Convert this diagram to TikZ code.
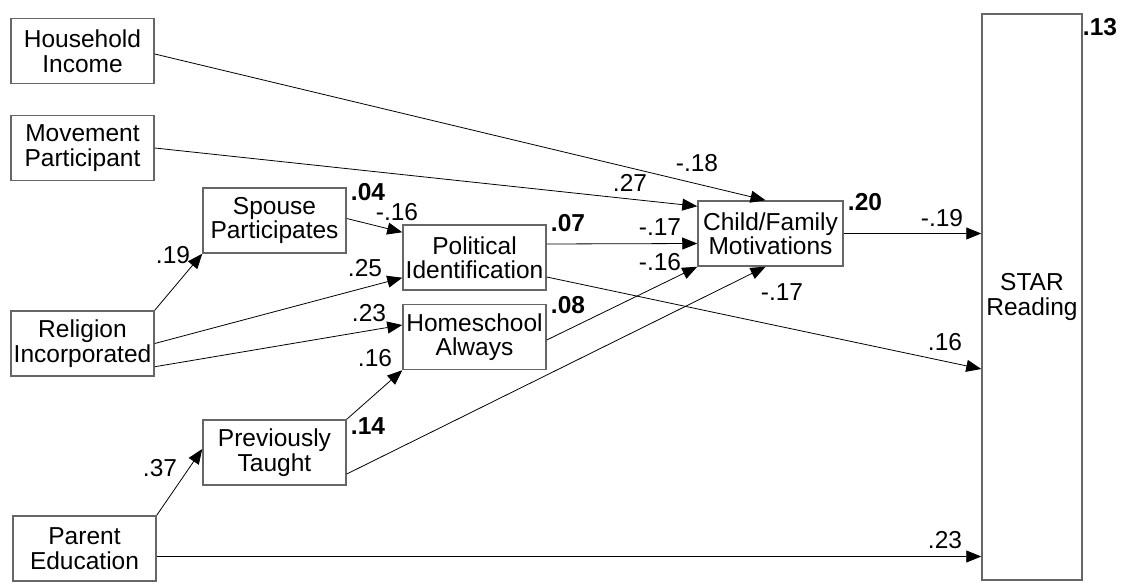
\documentclass[tikz,border=0pt]{standalone}
\usepackage{fontspec}
\setmainfont{Liberation Sans}
\usetikzlibrary{arrows.meta,positioning,calc}

\begin{document}
\begin{tikzpicture}[x=1pt,y=-1pt,every node/.style={font=\fontsize{24.5}{24.5}\selectfont,align=center},
  box/.style={draw=black!60,line width=1.5pt,minimum width=143pt,minimum height=65pt,inner sep=0pt},
  arr/.style={-{Triangle[length=15pt,width=12pt]},line width=0.8pt},
  coef/.style={inner sep=0pt},
  rsq/.style={inner sep=0pt,font=\fontsize{24.5}{24.5}\selectfont\bfseries}]
\useasboundingbox (0,0) rectangle (1122,585);
\node[box] (income) at (82.5,51) {Household\\Income};
\node[box] (movement) at (82.5,148) {Movement\\Participant};
\node[box] (spouse) at (274.5,220.5) {Spouse\\Participates};
\node[box] (religion) at (82.5,343.5) {Religion\\Incorporated};
\node[box] (parentedu) at (84.5,548.5) {Parent\\Education};
\node[box] (taught) at (274.5,452.5) {Previously\\Taught};
\node[box] (political) at (474.5,257.5) {Political\\Identification};
\node[box] (always) at (474.5,337) {Homeschool\\Always};
\node[box,minimum width=145pt] (motiv) at (770.5,233.5) {Child/Family\\Motivations};
\node[box,minimum width=100pt,minimum height=566pt] (star) at (1032,297) {STAR\\Reading};
\draw[arr] ([yshift=-3pt]income.east) -- ([xshift=-5pt]motiv.north);
\draw[arr] (movement.east) -- ([yshift=-6pt]motiv.north west);
\draw[arr] ([yshift=2pt]spouse.east) -- ([yshift=-8pt]political.north west);
\draw[arr] (religion.north east) -- (spouse.south west);
\draw[arr] (religion.east) -- ([yshift=13pt]political.south west);
\draw[arr] ([yshift=10pt]religion.south east) -- ([yshift=12pt]always.west);
\draw[arr] (taught.north east) -- (always.south west);
\draw[arr] ([yshift=13.5pt]political.east) -- ([yshift=-10pt]motiv.west);
\draw[arr] ([yshift=-3pt]always.east) -- (motiv.south west);
\draw[arr] ([yshift=-21.5pt]taught.east) -- ([xshift=-5pt]motiv.south);
\draw[arr] ([yshift=-19.5pt]political.east) -- ($(star.west)+(0,72)$);
\draw[arr] (motiv.east) -- (star.west |- motiv.east);
\draw[arr] (parentedu.north east) -- ([yshift=3.5pt]taught.west);
\draw[arr] ([yshift=-8pt]parentedu.east) -- ($(parentedu.east -| star.west)+(0,8)$);
% path coefficients
\node[coef] (cIncome) at (697,163) {-.18};
\node[coef] (cMovement) at (630,183) {.27};
\node[coef] (cPolMot) at (660,227) {-.17};
\node[coef] (cAlwMot) at (660,262) {-.16};
\node[coef] (cTauMot) at (782,292) {-.17};
\node[coef] (cSpouse) at (397,212) {-.16};
\node[coef] (cRelPol) at (365,268) {.25};
\node[coef] (cRelAlw) at (369,313) {.23};
\node[coef] (cTauAlw) at (375,358) {.16};
\node[coef] (cRelSpo) at (173,255) {.19};
\node[coef] (cEduTau) at (160,468) {.37};
\node[coef] (cMotStar) at (942,218) {-.19};
\node[coef] (cPolStar) at (945,342) {.16};
\node[coef] (cEduStar) at (945,540) {.23};
% explained variance
\node[rsq] (rSpouse) at (368,192) {.04};
\node[rsq] (rTaught) at (368,426) {.14};
\node[rsq] (rPolitical) at (568,223) {.07};
\node[rsq] (rAlways) at (568,305) {.08};
\node[rsq] (rMotiv) at (865,202) {.20};
\node[rsq] (rStar) at (1100,27) {.13};
\end{tikzpicture}
\end{document}
